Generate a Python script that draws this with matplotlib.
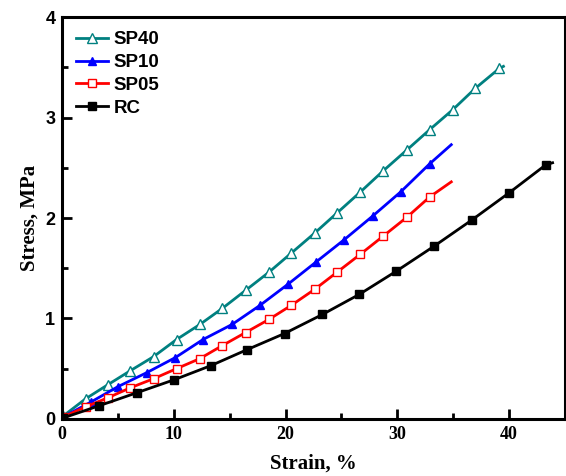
import numpy as np
import matplotlib
matplotlib.use("Agg")
import matplotlib.pyplot as plt
from matplotlib.ticker import MultipleLocator

# Stress-strain data (strain %, stress MPa)
sp40_x = [0.1, 2.09, 4.08, 6.10, 8.18, 10.23, 12.32, 14.33, 16.42, 18.5, 20.5, 22.6, 24.6, 26.7, 28.74, 30.88, 32.9, 34.98, 36.97, 39.14, 39.5]
sp40_y = [0.03, 0.20, 0.34, 0.48, 0.62, 0.79, 0.94, 1.10, 1.28, 1.46, 1.65, 1.85, 2.05, 2.26, 2.47, 2.68, 2.88, 3.08, 3.29, 3.49, 3.51]

sp10_x = [0.1, 2.6, 4.97, 7.56, 10.12, 12.6, 15.2, 17.7, 20.2, 22.7, 25.2, 27.8, 30.3, 32.9, 34.83]
sp10_y = [0.02, 0.17, 0.32, 0.46, 0.61, 0.79, 0.94, 1.13, 1.34, 1.56, 1.78, 2.02, 2.26, 2.54, 2.73]

sp05_x = [0.1, 2.09, 4.08, 6.10, 8.18, 10.23, 12.32, 14.33, 16.42, 18.5, 20.5, 22.6, 24.6, 26.7, 28.74, 30.88, 32.9, 34.83]
sp05_y = [0.02, 0.12, 0.21, 0.31, 0.40, 0.50, 0.60, 0.73, 0.86, 0.99, 1.13, 1.29, 1.46, 1.64, 1.82, 2.01, 2.21, 2.36]

rc_x = [0.1, 3.28, 6.67, 10.03, 13.30, 16.56, 19.9, 23.3, 26.6, 29.9, 33.3, 36.67, 40.0, 43.3, 43.9]
rc_y = [0.01, 0.13, 0.26, 0.39, 0.53, 0.69, 0.85, 1.04, 1.24, 1.47, 1.72, 1.98, 2.25, 2.53, 2.55]

series = [
    ("SP40", sp40_x, sp40_y, "#008080", "^", "white", 7),
    ("SP10", sp10_x, sp10_y, "#0000ff", "^", "#0000ff", 6),
    ("SP05", sp05_x, sp05_y, "#ff0000", "s", "white", 6),
    ("RC", rc_x, rc_y, "black", "s", "black", 6),
]

fig = plt.figure(figsize=(5.66, 4.76), dpi=100)
ax = fig.add_axes([0.110, 0.120, 0.888, 0.844])

for name, xs, ys, col, mk, fc, ms in series:
    ax.plot(xs, ys, color=col, lw=2.0, marker=mk, ms=ms, mfc=fc, mec=col,
            mew=1.0, markevery=slice(0, len(xs) - 1), label=name)

ax.set_xlim(0, 45)
ax.set_ylim(0, 4)
ax.xaxis.set_major_locator(MultipleLocator(10))
ax.xaxis.set_minor_locator(MultipleLocator(5))
ax.yaxis.set_major_locator(MultipleLocator(1))
ax.yaxis.set_minor_locator(MultipleLocator(0.5))
ax.tick_params(which="both", direction="in", width=2, top=False, right=False)
ax.tick_params(which="major", length=7, pad=5)
ax.tick_params(which="minor", length=4)
for s in ax.spines.values():
    s.set_linewidth(2.2)

for lab in ax.get_xticklabels():
    lab.set_fontfamily("Liberation Serif")
    lab.set_fontweight("bold")
    lab.set_fontsize(13)
for lab in ax.get_yticklabels():
    lab.set_fontfamily("Liberation Sans")
    lab.set_fontweight("bold")
    lab.set_fontsize(13)

ax.set_xlabel("Strain, %", fontfamily="Liberation Serif", fontweight="bold", fontsize=15, labelpad=8)
ax.set_ylabel("Stress, MPa", fontfamily="Liberation Serif", fontweight="bold", fontsize=15, labelpad=4)

ax.legend(loc="upper left", frameon=False, prop={"family": "Liberation Sans", "weight": "bold", "size": 13.5},
          handlelength=1.7, labelspacing=0.3, borderaxespad=0.35, handletextpad=0.3)

fig.savefig("out.png", dpi=100)
